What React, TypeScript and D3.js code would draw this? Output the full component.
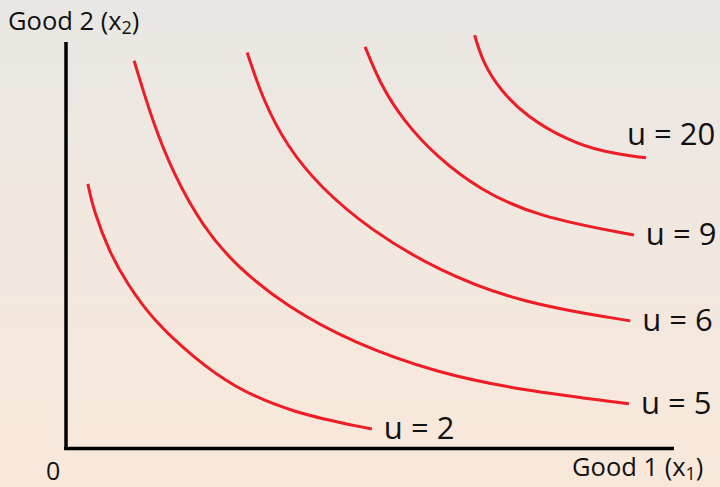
import React from "react";
import * as d3 from "d3";

// Utility levels and the (x1, x2) points
const utilityLevels = [2, 5, 6, 9, 20];

const curveU2: [number, number][] = [
  [3.6, 65.1], [4.5, 58.7], [7.2, 48.1], [10.0, 40.7], [14.3, 31.6],
  [20.9, 22.5], [27.5, 15.1], [37.3, 8.7], [50.3, 4.8],
];
const curveU5: [number, number][] = [
  [11.2, 95.4], [14.3, 80.1], [17.6, 67.8], [22.5, 54.5], [28.1, 44.7],
  [36.4, 34.8], [47.2, 26.0], [61.0, 18.6], [74.7, 14.4], [92.6, 11.0],
];
const curveU6: [number, number][] = [
  [29.8, 97.4], [32.4, 85.7], [36.4, 74.2], [41.8, 64.3], [50.0, 53.8],
  [61.0, 43.9], [74.7, 35.8], [92.8, 31.4],
];
const curveU9: [number, number][] = [
  [49.2, 98.8], [51.6, 89.9], [55.4, 80.8], [61.0, 71.7], [68.1, 63.6],
  [77.5, 57.0], [93.4, 52.5],
];
const curveU20: [number, number][] = [
  [67.2, 101.7], [68.6, 94.8], [71.4, 88.2], [75.8, 81.6], [82.4, 75.9],
  [88.3, 72.9], [95.4, 71.5],
];

const curves = [curveU2, curveU5, curveU6, curveU9, curveU20];

const xAxisLabel = "Good 1 (x";
const xAxisSub = "1";
const yAxisLabel = "Good 2 (x";
const yAxisSub = "2";
const originLabel = "0";

const W = 720;
const H = 487;
const FONT = "'Open Sans', 'Noto Sans', sans-serif";
const RED = "#ee1c25";

export default function App() {
  const x = d3.scaleLinear().domain([0, 100]).range([66, 674]);
  const y = d3.scaleLinear().domain([0, 100]).range([448.5, 42]);

  const line = d3
    .line<[number, number]>()
    .x((d) => x(d[0]))
    .y((d) => y(d[1]))
    .curve(d3.curveBasis);

  return (
    <svg
      width={W}
      height={H}
      style={{ position: "absolute", left: 0, top: 0 }}
      fontFamily={FONT}
    >
      <defs>
        <linearGradient id="bg" x1="0" y1="0" x2="0" y2="1">
          <stop offset="0" stopColor="#e9e7e4" />
          <stop offset="1" stopColor="#f9e8da" />
        </linearGradient>
      </defs>
      <rect width={W} height={H} fill="url(#bg)" />

      {/* axes */}
      <line x1={x(0)} x2={x(0)} y1={y(0) + 1.5} y2={y(100)} stroke="#000" strokeWidth={3.5} />
      <line x1={x(0) - 1.75} x2={x(100)} y1={y(0)} y2={y(0)} stroke="#000" strokeWidth={3.5} />

      {/* indifference curves */}
      {curves.map((pts, i) => (
        <path key={i} d={line(pts) ?? ""} fill="none" stroke={RED} strokeWidth={3} />
      ))}

      {/* curve labels placed next to each curve's right end */}
      {curves.map((pts, i) => {
        const end = pts[pts.length - 1];
        const top = i === curves.length - 1;
        const lx = x(end[0]) + (top ? -19 : 12);
        const ly = y(end[1]) + (top ? -13 : 10);
        return (
          <text key={i} x={lx} y={ly} fontSize={31} fill="#111">
            {`u = ${utilityLevels[i]}`}
          </text>
        );
      })}

      {/* axis titles */}
      <text x={8} y={30} fontSize={25.5} fill="#111">
        {yAxisLabel}
        <tspan fontSize={18} dy={4}>{yAxisSub}</tspan>
        <tspan dy={-4}>)</tspan>
      </text>
      <text x={572} y={476} fontSize={25.5} fill="#111">
        {xAxisLabel}
        <tspan fontSize={18} dy={4}>{xAxisSub}</tspan>
        <tspan dy={-4}>)</tspan>
      </text>
      <text x={46} y={480} fontSize={25} fill="#111">
        {originLabel}
      </text>
    </svg>
  );
}
